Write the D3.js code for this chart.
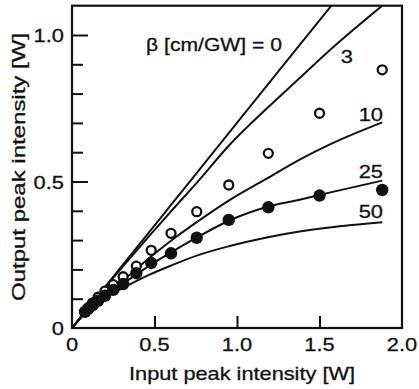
<!DOCTYPE html>
<html><head><meta charset="utf-8">
<script src="https://cdn.jsdelivr.net/npm/d3@7"></script>
<style>
html,body{margin:0;padding:0;background:#fff;}
svg text{font-family:"Liberation Sans",Arial,sans-serif;fill:#111;stroke:#111;stroke-width:0.3px;}
</style></head>
<body><svg id="c" width="419" height="389"></svg>
<script>
// ---- data ----
const xTickValues = [0, 0.5, 1.0, 1.5, 2.0];
const xTickLabels = ["0", "0.5", "1.0", "1.5", "2.0"];
const yMajorValues = [0, 0.5, 1.0];
const yMajorLabels = ["0", "0.5", "1.0"];
const yMinorValues = [0.1, 0.2, 0.3, 0.4, 0.6, 0.7, 0.8, 0.9];

const curveX   = [0, 0.1, 0.2, 0.31, 0.47, 0.6, 0.76, 0.95, 1.18, 1.38, 1.56, 1.88];
const beta0    = [0, 0.070, 0.140, 0.217, 0.329, 0.420, 0.532, 0.665, 0.826, 0.966, 1.092, 1.316];
const beta3    = [0, 0.070, 0.138, 0.211, 0.315, 0.398, 0.498, 0.622, 0.749, 0.853, 0.947, 1.100];
const beta10   = [0, 0.066, 0.120, 0.164, 0.240, 0.298, 0.363, 0.435, 0.510, 0.575, 0.626, 0.702];
const beta25   = [0, 0.064, 0.112, 0.152, 0.213, 0.258, 0.310, 0.366, 0.413, 0.438, 0.462, 0.503];
const beta50   = [0, 0.062, 0.104, 0.137, 0.182, 0.213, 0.248, 0.279, 0.309, 0.329, 0.343, 0.361];
const curveNames = ["0", "3", "10", "25", "50"];

const inputPower  = [0.079, 0.1, 0.125, 0.158, 0.2, 0.25, 0.31, 0.39, 0.48, 0.6, 0.756, 0.95, 1.19, 1.5, 1.88];
const openOutput  = [0.056, 0.070, 0.086, 0.105, 0.126, 0.148, 0.175, 0.211, 0.265, 0.323, 0.397, 0.488, 0.596, 0.733, 0.881];
const filledOutput= [0.055, 0.066, 0.078, 0.093, 0.110, 0.130, 0.150, 0.187, 0.222, 0.255, 0.308, 0.369, 0.412, 0.452, 0.471];

// ---- layout ----
const L = 72, R = 402, T = 5.7, B = 328;
const x = d3.scaleLinear().domain([0, 2]).range([L, R]);
const y = d3.scaleLinear().domain([0, 1.1]).range([B, T]);
const svg = d3.select("#c");
const ink = "#111";

function stretch(sel, f) {
  sel.each(function () {
    const w = this.getComputedTextLength();
    d3.select(this).attr("textLength", w * f).attr("lengthAdjust", "spacingAndGlyphs");
  });
}
function fitTo(sel, width) {
  sel.attr("textLength", width).attr("lengthAdjust", "spacingAndGlyphs");
}
const FS = 19, HS = 1.15;

svg.append("clipPath").attr("id", "plot").append("rect")
  .attr("x", L).attr("y", T).attr("width", R - L).attr("height", B - T);

// curves
const allCurves = [beta0, beta3, beta10, beta25, beta50];
const line = d3.line().x(d => x(d[0])).y(d => y(d[1])).curve(d3.curveMonotoneX);
const gC = svg.append("g").attr("clip-path", "url(#plot)");
allCurves.forEach(vals => {
  gC.append("path").datum(curveX.map((v, i) => [v, vals[i]]))
    .attr("d", line).attr("fill", "none").attr("stroke", ink).attr("stroke-width", 2);
});

// markers
svg.append("g").selectAll("circle").data(inputPower.map((v, i) => [v, openOutput[i]]))
  .join("circle").attr("cx", d => x(d[0])).attr("cy", d => y(d[1])).attr("r", 4.5)
  .attr("fill", "#fff").attr("stroke", ink).attr("stroke-width", 2.3);
svg.append("g").selectAll("circle").data(inputPower.map((v, i) => [v, filledOutput[i]]))
  .join("circle").attr("cx", d => x(d[0])).attr("cy", d => y(d[1])).attr("r", 6.2)
  .attr("fill", ink);

// axes
const xAxis = d3.axisBottom(x).tickValues(xTickValues.slice(1, 4)).tickSizeInner(-12).tickSizeOuter(0).tickFormat("");
const gx = svg.append("g").attr("transform", `translate(0,${B})`).call(xAxis);
gx.select(".domain").remove();
gx.selectAll("line").attr("stroke", ink).attr("stroke-width", 2);

const yMinor = d3.axisLeft(y).tickValues(yMinorValues).tickSizeInner(-11).tickSizeOuter(0).tickFormat("");
const gy1 = svg.append("g").attr("transform", `translate(${L},0)`).call(yMinor);
gy1.select(".domain").remove();
gy1.selectAll("line").attr("stroke", ink).attr("stroke-width", 2);
const yMajor = d3.axisLeft(y).tickValues(yMajorValues.slice(1)).tickSizeInner(-16).tickSizeOuter(0).tickFormat("");
const gy2 = svg.append("g").attr("transform", `translate(${L},0)`).call(yMajor);
gy2.select(".domain").remove();
gy2.selectAll("line").attr("stroke", ink).attr("stroke-width", 2);

// frame
svg.append("rect").attr("x", L).attr("y", T).attr("width", R - L).attr("height", B - T)
  .attr("fill", "none").attr("stroke", ink).attr("stroke-width", 2.2);

// tick labels
svg.append("g").selectAll("text").data(xTickValues)
  .join("text").attr("x", d => x(d)).attr("y", 351).attr("text-anchor", "middle")
  .attr("font-size", FS).text((d, i) => xTickLabels[i]).call(stretch, HS);
svg.append("g").selectAll("text").data(yMajorValues)
  .join("text").attr("x", 64).attr("y", d => y(d) + 7).attr("text-anchor", "end")
  .attr("font-size", FS).text((d, i) => yMajorLabels[i]).call(stretch, HS);

// titles
svg.append("text").attr("x", 242).attr("y", 380).attr("text-anchor", "middle")
  .attr("font-size", FS).text("Input peak intensity [W]").call(fitTo, 226);
svg.append("text").attr("transform", "translate(25,167) rotate(-90)")
  .attr("text-anchor", "middle").attr("font-size", FS).text("Output peak intensity [W]")
  .call(fitTo, 268);

// curve labels
svg.append("text").attr("x", 282).attr("y", 51).attr("text-anchor", "end")
  .attr("font-size", FS).text("β [cm/GW] = " + curveNames[0]).call(fitTo, 136);
const lab = [[curveNames[1], 353, 63], [curveNames[2], 383, 121], [curveNames[3], 383, 178], [curveNames[4], 383, 218]];
lab.forEach(([t, lx, ly]) => {
  svg.append("text").attr("x", lx).attr("y", ly).attr("text-anchor", "end")
    .attr("font-size", FS).text(t).call(stretch, HS);
});
</script></body></html>
